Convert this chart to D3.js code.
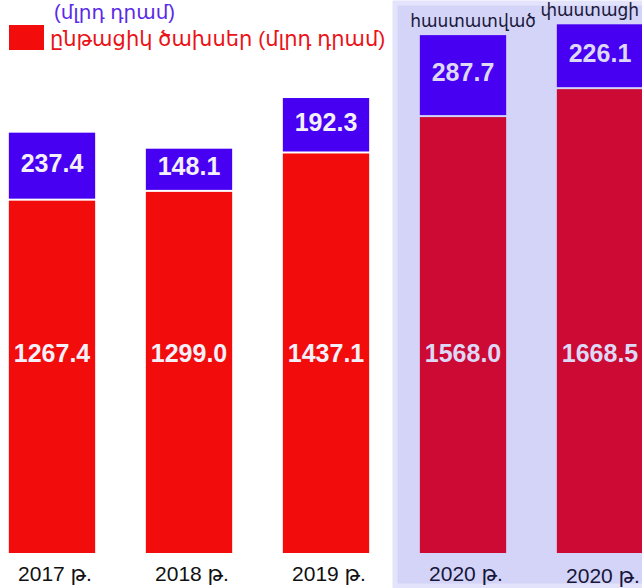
<!DOCTYPE html>
<html>
<head>
<meta charset="utf-8">
<script src="https://cdn.jsdelivr.net/npm/d3@7"></script>
<style>
  body { margin: 0; background: #fff; }
  svg { display: block; font-family: "Liberation Sans", Arial, "DejaVu Sans", sans-serif; }
</style>
</head>
<body>
<div id="chart"></div>
<script>
const categories = ["2017", "2018", "2019", "2020a", "2020b"];
const yearLabels = ["2017 թ.", "2018 թ.", "2019 թ.", "2020 թ.", "2020 թ."];
const currentSpending = [1267.4, 1299.0, 1437.1, 1568.0, 1668.5]; // red, bottom
const capitalSpending = [237.4, 148.1, 192.3, 287.7, 226.1];      // blue, top
const groupLabels = ["", "", "", "հաստատված", "փաստացի"];

const WIDTH = 642, HEIGHT = 588;
const BASE = 553;  // bottom of the bars
const GAP = 2;     // white line between the two segments

const data = categories.map((c, i) => ({
  key: c,
  label: yearLabels[i],
  cur: currentSpending[i],
  cap: capitalSpending[i],
  group: groupLabels[i],
  is2020: i >= 3
}));

const svg = d3.select("#chart")
  .append("svg")
    .attr("width", WIDTH)
    .attr("height", HEIGHT);

const x = d3.scaleBand()
  .domain(categories)
  .range([-16.5, 668.5])
  .paddingInner(0.37)
  .paddingOuter(0.185);

const y = d3.scaleLinear()
  .domain([0, 1900])
  .range([BASE, BASE - 1900 * 0.278]);

// shaded panel behind the 2020 bars
svg.append("rect")
  .attr("x", 395)
  .attr("y", 3)
  .attr("width", 260)
  .attr("height", 583)
  .attr("fill", "#d4d4f8")
  .attr("stroke", "#e3e3fb")
  .attr("stroke-width", 5);

// legend
svg.append("text")
  .attr("x", 54)
  .attr("y", 19)
  .attr("font-size", 20)
  .attr("fill", "#5a2ae8")
  .text("(մլրդ դրամ)");

svg.append("rect")
  .attr("x", 9).attr("y", 25)
  .attr("width", 35).attr("height", 25)
  .attr("fill", "#f20c0c");

svg.append("text")
  .attr("x", 50)
  .attr("y", 46)
  .attr("font-size", 21)
  .attr("fill", "#ea1218")
  .text("ընթացիկ ծախսեր (մլրդ դրամ)");

const bars = svg.selectAll(".bar")
  .data(data)
  .enter().append("g")
    .attr("class", "bar");

// red segment
bars.append("rect")
  .attr("x", d => x(d.key))
  .attr("y", d => y(d.cur))
  .attr("width", x.bandwidth())
  .attr("height", d => BASE - y(d.cur))
  .attr("fill", d => d.is2020 ? "#cc0a33" : "#f20c0c");

// blue segment
bars.append("rect")
  .attr("x", d => x(d.key))
  .attr("y", d => y(d.cur + d.cap) - GAP)
  .attr("width", x.bandwidth())
  .attr("height", d => y(d.cur) - y(d.cur + d.cap))
  .attr("fill", "#4800f2");

// values
bars.append("text")
  .attr("x", d => x(d.key) + x.bandwidth() / 2)
  .attr("y", d => (y(d.cur) + y(d.cur + d.cap)) / 2 - GAP - 3)
  .attr("dy", "0.36em")
  .attr("text-anchor", "middle")
  .attr("font-size", 25)
  .attr("font-weight", "bold")
  .attr("fill", d => d.is2020 ? "#dcd8f6" : "#f4f0fa")
  .text(d => d.cap.toFixed(1));

bars.append("text")
  .attr("x", d => x(d.key) + x.bandwidth() / 2)
  .attr("y", 353)
  .attr("dy", "0.36em")
  .attr("text-anchor", "middle")
  .attr("font-size", 25)
  .attr("font-weight", "bold")
  .attr("fill", d => d.is2020 ? "#dcd8f6" : "#f4f0fa")
  .text(d => d.cur.toFixed(1));

// year labels
bars.append("text")
  .attr("x", d => x(d.key) + x.bandwidth() / 2 + 3)
  .attr("y", (d, i) => i === 4 ? 583 : 581)
  .attr("text-anchor", "middle")
  .attr("font-size", 21)
  .attr("fill", d => d.is2020 ? "#16163a" : "#111")
  .text(d => d.label);

// group labels above the 2020 bars (the last one kept inside the right edge)
bars.filter(d => d.group !== "")
  .append("text")
  .attr("x", (d, i) => i === 0 ? x(d.key) + x.bandwidth() / 2 + 10 : WIDTH - 3)
  .attr("y", d => y(d.cur + d.cap) - GAP - 8)
  .attr("text-anchor", (d, i) => i === 0 ? "middle" : "end")
  .attr("font-size", 17)
  .attr("fill", "#1a1a3a")
  .text(d => d.group);
</script>
</body>
</html>
